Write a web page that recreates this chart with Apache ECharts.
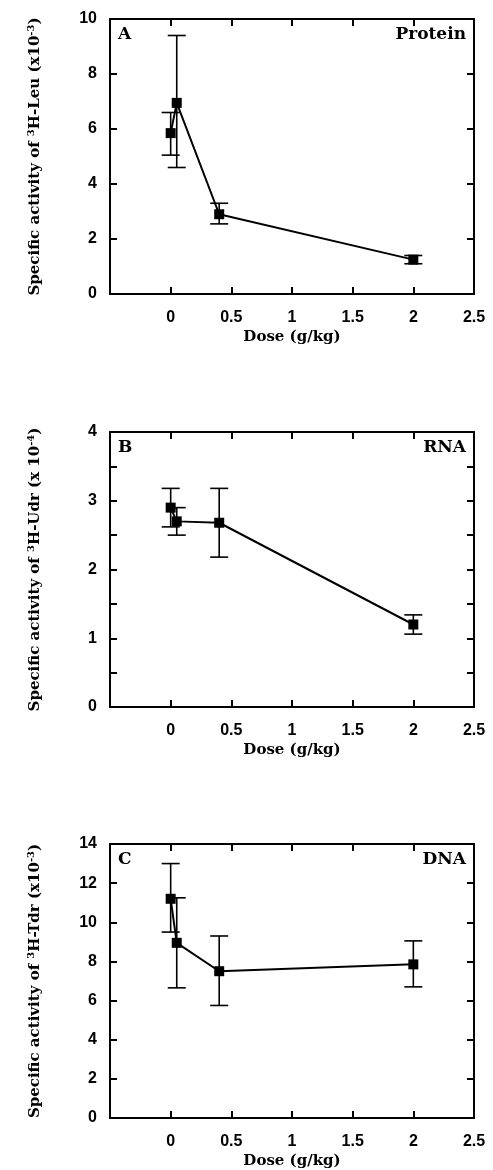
<!DOCTYPE html>
<html>
<head>
<meta charset="utf-8">
<script src="https://cdn.jsdelivr.net/npm/echarts@6/dist/echarts.min.js"></script>
<style>
  html, body { margin: 0; padding: 0; background: #fff; }
  #chart { width: 493px; height: 1170px; }
</style>
</head>
<body>
<div id="chart"></div>
<script>
// dose levels (g/kg)
const doses = [0, 0.05, 0.4, 2];

// A: protein, 3H-Leu (x10-3)
const proteinMean = [5.85, 6.95, 2.9, 1.25];
const proteinLow = [5.05, 4.6, 2.55, 1.1];
const proteinHigh = [6.6, 9.4, 3.3, 1.4];

// B: RNA, 3H-Udr (x10-4)
const rnaMean = [2.9, 2.7, 2.68, 1.2];
const rnaLow = [2.62, 2.5, 2.18, 1.06];
const rnaHigh = [3.18, 2.9, 3.18, 1.34];

// C: DNA, 3H-Tdr (x10-3)
const dnaMean = [11.2, 8.95, 7.5, 7.85];
const dnaLow = [9.5, 6.65, 5.75, 6.7];
const dnaHigh = [13.0, 11.25, 9.3, 9.05];

const panels = [
  { letter: 'A', tag: 'Protein', top: 19, yMax: 10, yStep: 2, mean: proteinMean, low: proteinLow, high: proteinHigh,
    name: '{a|Specific activity of }{s|3}{a|H-Leu (x10}{s|-3}{a|)}' },
  { letter: 'B', tag: 'RNA', top: 432, yMax: 4, yStep: 0.5, mean: rnaMean, low: rnaLow, high: rnaHigh,
    name: '{a|Specific activity of }{s|3}{a|H-Udr (x 10}{s|-4}{a|)}' },
  { letter: 'C', tag: 'DNA', top: 844, yMax: 14, yStep: 2, mean: dnaMean, low: dnaLow, high: dnaHigh,
    name: '{a|Specific activity of }{s|3}{a|H-Tdr (x10}{s|-3}{a|)}' }
];

const serif = 'DejaVu Serif';
const sans = 'Liberation Sans';
const boxLine = { onZero: false, lineStyle: { color: '#000', width: 2 } };
const inTick = { inside: true, length: 7, lineStyle: { color: '#000', width: 2 } };

const grid = [], xAxis = [], yAxis = [], series = [], title = [];

panels.forEach((p, i) => {
  grid.push({ left: 110, right: 19, top: p.top, height: 275 });

  title.push({ text: p.letter, left: 113, top: p.top + 2,
    textStyle: { fontFamily: serif, fontWeight: 'bold', fontSize: 17, color: '#000' } });
  title.push({ text: p.tag, right: 22, top: p.top + 2,
    textStyle: { fontFamily: serif, fontWeight: 'bold', fontSize: 17, color: '#000' } });

  xAxis.push({
    gridIndex: i, type: 'value', min: -0.5, max: 2.5, interval: 0.5,
    axisLine: boxLine, axisTick: inTick, splitLine: { show: false },
    axisLabel: {
      margin: 16, fontFamily: sans, fontWeight: 'bold', fontSize: 16, color: '#000',
      formatter: v => (v < 0 ? '' : String(v))
    },
    name: 'Dose (g/kg)', nameLocation: 'middle', nameGap: 36,
    nameTextStyle: { fontFamily: serif, fontWeight: 'bold', fontSize: 15, color: '#000' }
  });
  xAxis.push({
    gridIndex: i, type: 'value', position: 'top', min: -0.5, max: 2.5, interval: 0.5,
    axisLine: boxLine, axisTick: inTick, axisLabel: { show: false }, splitLine: { show: false }
  });

  yAxis.push({
    gridIndex: i, type: 'value', min: 0, max: p.yMax, interval: p.yStep,
    axisLine: boxLine, axisTick: inTick, splitLine: { show: false },
    axisLabel: {
      margin: 13, fontFamily: sans, fontWeight: 'bold', fontSize: 16, color: '#000',
      formatter: v => (Number.isInteger(v) ? String(v) : '')
    },
    name: p.name, nameLocation: 'middle', nameGap: 66,
    nameTextStyle: {
      rich: {
        a: { fontFamily: serif, fontWeight: 'bold', fontSize: 15, lineHeight: 18, color: '#000' },
        s: { fontFamily: serif, fontWeight: 'bold', fontSize: 10, lineHeight: 10, color: '#000', verticalAlign: 'top' }
      }
    }
  });
  yAxis.push({
    gridIndex: i, type: 'value', position: 'right', min: 0, max: p.yMax, interval: p.yStep,
    axisLine: boxLine, axisTick: inTick, axisLabel: { show: false }, splitLine: { show: false }
  });

  series.push({
    type: 'custom', xAxisIndex: 2 * i, yAxisIndex: 2 * i,
    data: doses.map((d, k) => [d, p.low[k], p.high[k]]),
    encode: { x: 0, y: [1, 2] },
    renderItem: (params, api) => {
      const lo = api.coord([api.value(0), api.value(1)]);
      const hi = api.coord([api.value(0), api.value(2)]);
      const w = 9;
      const st = { stroke: '#000', lineWidth: 1.6 };
      return {
        type: 'group',
        children: [
          { type: 'line', shape: { x1: lo[0], y1: lo[1], x2: hi[0], y2: hi[1] }, style: st },
          { type: 'line', shape: { x1: lo[0] - w, y1: lo[1], x2: lo[0] + w, y2: lo[1] }, style: st },
          { type: 'line', shape: { x1: hi[0] - w, y1: hi[1], x2: hi[0] + w, y2: hi[1] }, style: st }
        ]
      };
    },
    z: 2
  });
  series.push({
    type: 'line', xAxisIndex: 2 * i, yAxisIndex: 2 * i,
    data: doses.map((d, k) => [d, p.mean[k]]),
    symbol: 'rect', symbolSize: 10, showSymbol: true,
    itemStyle: { color: '#000' },
    lineStyle: { color: '#000', width: 2 },
    animation: false, z: 3
  });
});

const chart = echarts.init(document.getElementById('chart'));
chart.setOption({
  animation: false,
  backgroundColor: '#fff',
  title, grid, xAxis, yAxis, series
});
</script>
</body>
</html>
